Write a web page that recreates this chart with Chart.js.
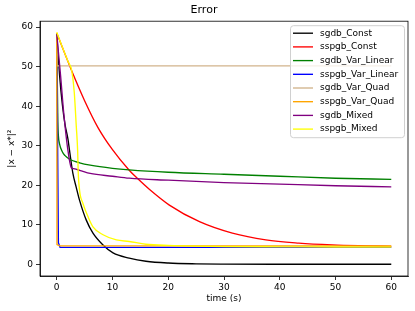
<!DOCTYPE html>
<html>
<head>
<meta charset="utf-8">
<script src="https://cdn.jsdelivr.net/npm/chart.js@4"></script>
<style>
  html, body { margin: 0; padding: 0; background: #fff; }
  #wrap { width: 415px; height: 311px; }
</style>
</head>
<body>
<div id="wrap"><canvas id="errChart" width="415" height="311"></canvas></div>
<script>
// series
const labels = ['sgdb_Const', 'sspgb_Const', 'sgdb_Var_Linear', 'sspgb_Var_Linear',
                'sgdb_Var_Quad', 'sspgb_Var_Quad', 'sgdb_Mixed', 'sspgb_Mixed'];
const colors = ['#000000', '#FF0000', '#008000', '#0000FF', '#D2B48C', '#FFA500', '#800080', '#FFFF00'];

const tSgdbConst = [0, 0.5, 1.0, 1.5, 2.0, 2.3, 2.9, 3.5, 4.1, 5.3, 6.5, 8.3, 10.1, 13, 16, 20, 25, 30, 40, 50, 60];
const ySgdbConst = [58.3, 48, 40.5, 35.3, 31.8, 28.8, 23, 19.5, 16.2, 11.2, 7.9, 4.9, 2.9, 1.6, 0.8, 0.35, 0.15, 0.08, 0.04, 0.03, 0.03];

const tSspgbConst = [0, 2.7, 5, 7.4, 10, 13, 14.5, 16.6, 20.2, 25.6, 31.5, 37.5, 43.4, 49.4, 55.4, 60];
const ySspgbConst = [58.5, 48.9, 41.4, 34.6, 29.0, 23.8, 21.7, 19.0, 15.0, 10.8, 7.9, 6.2, 5.4, 4.95, 4.7, 4.55];

const tSgdbLin = [0, 0.2, 0.3, 0.5, 1.0, 1.5, 2.3, 4.1, 6, 10, 13, 20, 30, 40, 50, 60];
const ySgdbLin = [58.5, 36, 32.5, 30.5, 28.5, 27.5, 26.6, 25.7, 25.1, 24.3, 23.9, 23.3, 22.8, 22.3, 21.8, 21.5];

const tSspgbLin = [0, 0.3, 0.6, 10, 30, 60];
const ySspgbLin = [58.5, 5.5, 4.3, 4.3, 4.3, 4.3];

const tSgdbQuad = [0, 0.05, 30, 60];
const ySgdbQuad = [58.5, 50.2, 50.2, 50.2];

const tSspgbQuad = [0, 0.05, 0.5, 30, 60];
const ySspgbQuad = [58.5, 5.0, 4.7, 4.7, 4.7];

const tSgdbMixed = [0, 0.7, 1.25, 1.97, 2.6, 3, 4.1, 6, 10, 13, 20, 30, 40, 50, 60];
const ySgdbMixed = [58.3, 47.6, 38.4, 29.2, 24.5, 24.2, 23.8, 23.0, 22.3, 21.8, 21.3, 20.7, 20.3, 19.9, 19.6];

const tSspgbMixed = [0, 1, 2, 2.7, 3.15, 3.5, 3.75, 3.85, 4.1, 4.7, 5.6, 6.5, 8.3, 10.7, 13, 16, 20, 30, 40, 50, 60];
const ySspgbMixed = [58.7, 55, 51.4, 48.9, 43.4, 35.1, 28.8, 23.5, 18.7, 15.4, 12.1, 9.5, 7.5, 6.2, 5.8, 5.1, 4.8, 4.5, 4.45, 4.4, 4.4];

const seriesT = [tSgdbConst, tSspgbConst, tSgdbLin, tSspgbLin, tSgdbQuad, tSspgbQuad, tSgdbMixed, tSspgbMixed];
const seriesY = [ySgdbConst, ySspgbConst, ySgdbLin, ySspgbLin, ySgdbQuad, ySspgbQuad, ySgdbMixed, ySspgbMixed];
const smooth  = [true, true, true, false, false, false, true, true];

const xTicks = [0, 10, 20, 30, 40, 50, 60];
const yTicks = [0, 10, 20, 30, 40, 50, 60];

const FONT = "'DejaVu Sans', sans-serif";
const LW = 1.35;

// frame on all four sides, like matplotlib
const framePlugin = {
    id: 'frame',
    afterDraw(chart) {
        const { ctx, chartArea: a } = chart;
        ctx.save();
        ctx.strokeStyle = '#000';
        ctx.lineWidth = 0.8;
        ctx.strokeRect(a.left, a.top, a.right - a.left, a.bottom - a.top);
        ctx.restore();
    }
};

// legend box in the upper right corner
const legendPlugin = {
    id: 'mplLegend',
    afterDraw(chart) {
        const { ctx, chartArea: a } = chart;
        const x0 = a.right - 118, y0 = a.top + 4, w = 114, h = 112, r = 3;
        ctx.save();
        ctx.fillStyle = 'rgba(255,255,255,0.8)';
        ctx.strokeStyle = '#d0d0d0';
        ctx.lineWidth = 1;
        ctx.beginPath();
        ctx.roundRect(x0 + 0.5, y0 + 0.5, w, h, r);
        ctx.fill();
        ctx.stroke();
        ctx.font = '9px ' + FONT;
        ctx.textBaseline = 'middle';
        ctx.textAlign = 'left';
        labels.forEach((lab, i) => {
            const yy = y0 + 8 + i * 13.7;
            ctx.strokeStyle = colors[i];
            ctx.lineWidth = LW;
            ctx.beginPath();
            ctx.moveTo(x0 + 3, yy);
            ctx.lineTo(x0 + 23, yy);
            ctx.stroke();
            ctx.fillStyle = '#000';
            ctx.fillText(lab, x0 + 30, yy);
        });
        ctx.restore();
    }
};

const datasets = labels.map((lab, i) => ({
    label: lab,
    data: seriesT[i].map((t, k) => ({ x: t, y: seriesY[i][k] })),
    borderColor: colors[i],
    backgroundColor: colors[i],
    borderWidth: LW,
    pointRadius: 0,
    fill: false,
    cubicInterpolationMode: smooth[i] ? 'monotone' : 'default',
    tension: 0,
    order: labels.length - i
}));

new Chart(document.getElementById('errChart').getContext('2d'), {
    type: 'line',
    data: { datasets },
    options: {
        responsive: false,
        animation: false,
        layout: { padding: { left: 0, right: 7, top: 0, bottom: 0 } },
        plugins: {
            legend: { display: false },
            tooltip: { enabled: false },
            title: {
                display: true, text: 'Error', color: '#000',
                font: { family: FONT, size: 11, weight: 'normal' },
                padding: { top: 4, bottom: 4 }
            }
        },
        scales: {
            x: {
                type: 'linear', min: -3, max: 63,
                afterFit: s => { s.height = 35; },
                afterBuildTicks: s => { s.ticks = xTicks.map(v => ({ value: v })); },
                grid: { display: true, drawOnChartArea: false, drawTicks: true, tickLength: 4, color: '#000', lineWidth: 0.8 },
                border: { display: true, color: '#000', width: 0.8 },
                ticks: { color: '#000', padding: 2, maxRotation: 0, font: { family: FONT, size: 9 } },
                title: { display: true, text: 'time (s)', color: '#000', font: { family: FONT, size: 9 }, padding: { top: 0, bottom: 7 } }
            },
            y: {
                type: 'linear', min: -2.93, max: 61.5,
                afterFit: s => { s.width = 40; },
                afterBuildTicks: s => { s.ticks = yTicks.map(v => ({ value: v })); },
                grid: { display: true, drawOnChartArea: false, drawTicks: true, tickLength: 4, color: '#000', lineWidth: 0.8 },
                border: { display: true, color: '#000', width: 0.8 },
                ticks: { color: '#000', padding: 3, font: { family: FONT, size: 9 } },
                title: { display: true, text: '|x − x*|²', color: '#000', font: { family: FONT, size: 9 }, padding: { top: 6, bottom: 0 } }
            }
        }
    },
    plugins: [framePlugin, legendPlugin]
});
</script>
</body>
</html>
